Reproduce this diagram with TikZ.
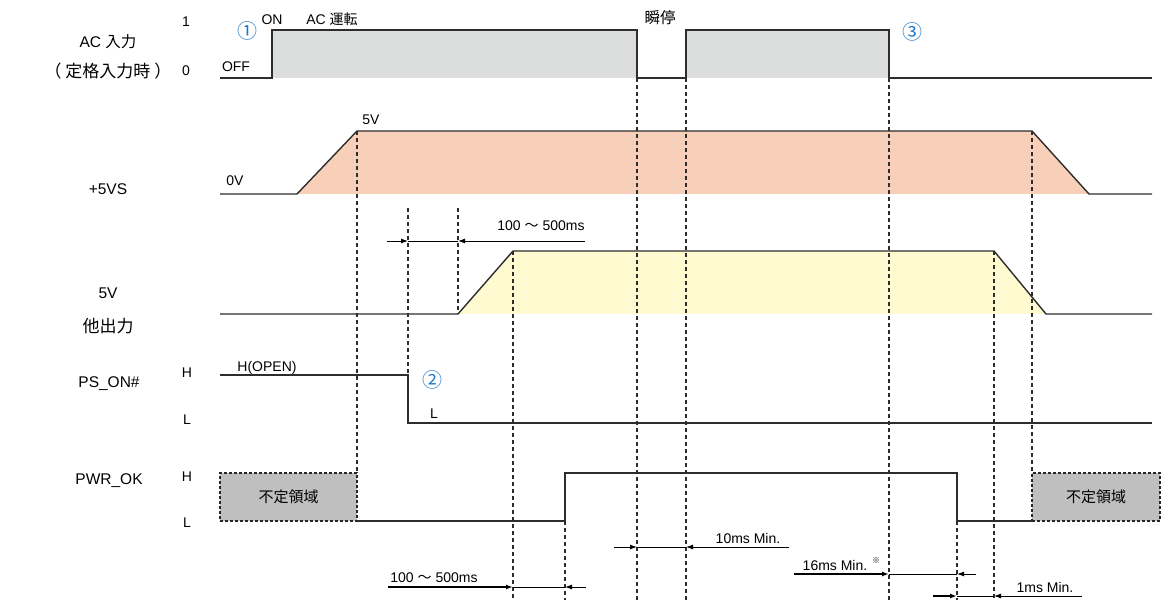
\documentclass[tikz,border=0pt]{standalone}
\usepackage{fontspec}
\setmainfont{Liberation Sans}
\newfontfamily\jp{Noto Sans CJK JP}
\usetikzlibrary{arrows.meta}
\definecolor{acgray}{RGB}{220,221,221}
\definecolor{vsfill}{RGB}{248,208,185}
\definecolor{outfill}{RGB}{255,250,208}
\definecolor{undefgray}{RGB}{191,191,191}
\definecolor{numblue}{RGB}{30,120,200}
\definecolor{sigdark}{RGB}{45,45,45}

\begin{document}
\begin{tikzpicture}[x=1pt,y=-1pt,
  every node/.style={inner sep=0pt,text depth=0pt},
  lbl/.style={font=\fontsize{15.5}{18}\selectfont,text height=11pt},
  txt/.style={font=\fontsize{14}{16}\selectfont,text height=10pt},
  jptxt/.style={font=\jp\fontsize{15.5}{18}\selectfont,text height=11pt},
  circnum/.style={font=\jp\fontsize{20}{22}\selectfont,text height=15pt,numblue},
  sig/.style={line width=1.4pt,sigdark},
  guide/.style={line width=1.2pt,sigdark,dash pattern=on 4pt off 3pt},
  undef/.style={fill=undefgray,draw=black!85,line width=1.5pt,dash pattern=on 3pt off 2pt,
    minimum width=137pt,minimum height=48pt,font=\jp\fontsize{15}{18}\selectfont,text height=11pt},
  dim/.style={line width=0.9pt},
  dimtail/.style={line width=1.7pt},
  tip/.style={-{Latex[length=7pt,width=5pt]}}]
  \useasboundingbox (0,0) rectangle (1173,601);
  % fills
  \fill[acgray] (272,30) rectangle (637,78);
  \fill[acgray] (686,30) rectangle (889,78);
  \fill[vsfill] (297,194) -- (357,131) -- (1032,131) -- (1089,194) -- cycle;
  \fill[outfill] (458,314) -- (513,251) -- (994,251) -- (1046,314) -- cycle;
  % guides
  \foreach \x/\a/\b in {357/131/473,408/208/375,458/208/314,513/251/600,565/521/600,
      637/78/600,686/78/600,889/78/600,957/521/600,994/251/600,1032/131/473}
    \draw[guide] (\x,\a) -- (\x,\b);
  % signals
  \draw[sig] (220,78) -- (272,78) -- (272,30) -- (637,30) -- (637,78) -- (686,78)
    -- (686,30) -- (889,30) -- (889,78) -- (1152,78);
  \draw[sig] (220,194) -- (297,194) -- (357,131) -- (1032,131) -- (1089,194) -- (1152,194);
  \draw[sig] (220,314) -- (458,314) -- (513,251) -- (994,251) -- (1046,314) -- (1152,314);
  \draw[sig] (220,375) -- (408,375) -- (408,423) -- (1152,423);
  \draw[sig] (357,521) -- (565,521) -- (565,473) -- (957,473) -- (957,521) -- (1032,521);
  \node[undef] (undefl) at (288.5,497) {不定領域};
  \node[undef,minimum width=128pt] (undefr) at (1096,497) {不定領域};
  % timing
  \draw[dim,tip] (387,241) -- (408,241);
  \draw[dim] (408,241) -- (458,241);
  \draw[dim,tip] (585,241) -- (458,241);
  \draw[dimtail,tip] (388,587) -- (513,587);
  \draw[dim] (513,587) -- (565,587);
  \draw[dim,tip] (586,587) -- (565,587);
  \draw[dim,tip] (614,547) -- (637,547);
  \draw[dim] (637,547) -- (686,547);
  \draw[dim,tip] (789,547) -- (686,547);
  \draw[dimtail,tip] (794,574) -- (889,574);
  \draw[dim] (889,574) -- (957,574);
  \draw[dim,tip] (976,574) -- (957,574);
  \draw[dimtail,tip] (933,596) -- (957,596);
  \draw[dim] (957,596) -- (994,596);
  \draw[dim,tip] (1082,596) -- (994,596);
  % labels
  \node[lbl] (acin) at (108,42) {AC {\jp 入力}};
  \node[jptxt,font=\jp\fontsize{17}{18}\selectfont] (acrate) at (108,72) {（\hspace{4pt}定格入力時\hspace{4pt}）};
  \node[txt] (lv1) at (186,22) {1};
  \node[txt] (lv0) at (186,71) {0};
  \node[txt] (off) at (236,67) {OFF};
  \node[txt] (on) at (272,20) {ON};
  \node[txt] (acrun) at (332,20) {AC {\jp 運転}};
  \node[jptxt] (blink) at (660,18) {瞬停};
  \node[circnum] (n1) at (247,31) {①};
  \node[circnum] (n3) at (912,32) {③};
  \node[txt] (vshi) at (371,120) {5V};
  \node[txt] (vslo) at (235,181) {0V};
  \node[lbl] (vs) at (108,189) {+5VS};
  \node[lbl] (out5) at (108,293) {5V};
  \node[jptxt,font=\jp\fontsize{17}{18}\selectfont] (outjp) at (108,327) {他出力};
  \node[txt] (dly1) at (541,226) {100 {\jp ～} 500ms};
  \node[lbl] (pson) at (109,382) {PS\_ON\#};
  \node[txt] (psh) at (187,373) {H};
  \node[txt] (psl) at (187,420) {L};
  \node[txt] (open) at (267,367) {H(OPEN)};
  \node[circnum] (n2) at (432,380) {②};
  \node[txt] (pslow) at (434,414) {L};
  \node[lbl] (pwr) at (109,479) {PWR\_OK};
  \node[txt] (pwh) at (187,476) {H};
  \node[txt] (pwl) at (187,522) {L};
  \node[txt] (dly2) at (434,577) {100 {\jp ～} 500ms};
  \node[txt] (hold1) at (748,538) {10ms Min.};
  \node[txt] (hold2) at (835,565) {16ms Min.};
  \node[font=\jp\fontsize{8}{8}\selectfont] (mark) at (876,561) {※};
  \node[txt] (hold3) at (1045,587) {1ms Min.};
\end{tikzpicture}
\end{document}
